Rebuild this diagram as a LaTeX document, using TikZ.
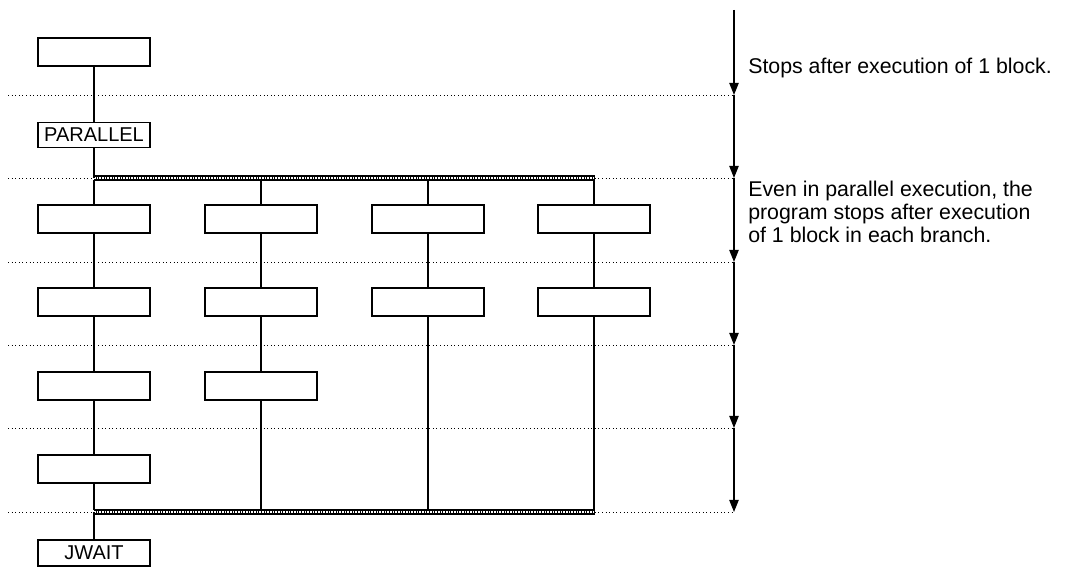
\documentclass[tikz,border=0pt]{standalone}
\usepackage{fontspec}
\setmainfont{Liberation Sans}
\usetikzlibrary{arrows.meta}
\begin{document}
\begin{tikzpicture}[x=0.75pt,y=-0.75pt,
  blk/.style={draw,line width=0.9pt,minimum width=84pt,minimum height=21pt,inner sep=0pt,font=\fontsize{15}{16}\selectfont},
  ln/.style={line width=1pt},
  sep/.style={dotted,line width=0.7pt},
  arr/.style={line width=0.9pt,-{Triangle[length=9pt,width=7pt]}}]
\useasboundingbox (0,0) rectangle (1065,573);
\foreach \y in {95,178,262,345,428,512} \draw[sep] (8,\y) -- (734,\y);
% arrow
\coordinate (a0) at (734,10);
\foreach \y [count=\i] in {95,178,262,345,428,512} \coordinate (a\i) at (734,\y);
\foreach \i [evaluate=\i as \j using int(\i-1)] in {1,...,6} \draw[arr] (a\j) -- (a\i);
% bars
\coordinate (bt1) at (94,178); \coordinate (bt2) at (595,178);
\coordinate (bb1) at (94,512); \coordinate (bb2) at (595,512);
\draw[line width=5pt] (bt1) -- (bt2);
\draw[white,line width=1.6pt,dash pattern=on 1.2pt off 0.8pt] (bt1) -- (bt2);
\draw[line width=5pt] (bb1) -- (bb2);
\draw[white,line width=1.6pt,dash pattern=on 1.2pt off 0.8pt] (bb1) -- (bb2);
% nodes
\node[blk] (s) at (94,52) {};
\node[blk,minimum height=19pt] (p) at (94,135) {PARALLEL};
\node[blk,minimum height=19.5pt] (j) at (94,553) {JWAIT};
\foreach \r/\y in {1/219,2/302,3/386,4/469} \node[blk] (c1\r) at (94,\y) {};
\foreach \r/\y in {1/219,2/302,3/386} \node[blk] (c2\r) at (261,\y) {};
\foreach \r/\y in {1/219,2/302} \node[blk] (c3\r) at (428,\y) {};
\foreach \r/\y in {1/219,2/302} \node[blk] (c4\r) at (594,\y) {};
\foreach \n in {1,...,4} {
  \coordinate (t\n) at (c\n1|-0,180);
  \coordinate (b\n) at (c\n1|-0,510);
}
\draw[ln] (s) -- (p);
\draw[ln] (p) -- (p|-bt1);
\draw[ln] (t1) -- (c11); \draw[ln] (c11) -- (c12); \draw[ln] (c12) -- (c13); \draw[ln] (c13) -- (c14); \draw[ln] (c14) -- (b1);
\draw[ln] (t2) -- (c21); \draw[ln] (c21) -- (c22); \draw[ln] (c22) -- (c23); \draw[ln] (c23) -- (b2);
\draw[ln] (t3) -- (c31); \draw[ln] (c31) -- (c32); \draw[ln] (c32) -- (b3);
\draw[ln] (t4) -- (c41); \draw[ln] (c41) -- (c42); \draw[ln] (c42) -- (b4);
\draw[ln] (j|-bb1) -- (j);
% texts
\node[anchor=west,font=\fontsize{16}{18}\selectfont,inner sep=0pt] (n1) at (748,68) {Stops after execution of 1 block.};
\node[anchor=north west,align=left,font=\fontsize{16}{17.3}\selectfont,inner sep=0pt] (n2) at (748,181) {Even in parallel execution, the\\program stops after execution\\of 1 block in each branch.};
\end{tikzpicture}
\end{document}
